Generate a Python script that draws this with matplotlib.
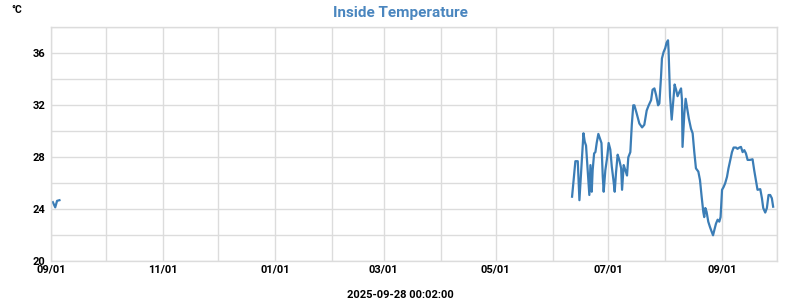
import numpy as np
import pandas as pd
import matplotlib
matplotlib.use("Agg")
import matplotlib.pyplot as plt
import matplotlib.dates as mdates
from matplotlib.ticker import MultipleLocator, FuncFormatter

# ---- data ----
title = "Inside Temperature"
unit = "°C"
footer = "2025-09-28 00:02:00"
start_date = "2024-09-01"
end_date = "2025-10-01"

# days since start_date, temperatures (°C)
seg1_days = [1.0, 2.3, 3.3, 4.6]
seg1_temps = [24.55, 24.15, 24.65, 24.7]

seg2_days = [283.5, 285.3, 286.6, 287.5, 289.7, 290.4, 291.1, 292.9, 293.5, 294.2,
             294.7, 295.5, 296.2, 296.9, 297.8, 299.5, 300.2, 300.7, 301.6, 302.6,
             303.4, 304.3, 305.1, 306.0, 306.7, 307.4, 308.3, 309.2, 310.2, 310.7,
             311.6, 312.5, 313.4, 314.1, 315.2, 316.0, 316.8, 317.4, 318.6, 320.1,
             321.6, 322.8, 324.1, 325.2, 326.5, 327.3, 328.3, 329.2, 330.3, 331.0,
             331.9, 332.4, 333.3, 334.2, 334.9, 335.7, 336.0, 336.8, 337.7, 338.6,
             339.3, 340.1, 340.9, 341.8, 342.8, 343.3, 343.6, 344.6, 345.3, 346.2,
             347.0, 348.2, 349.1, 350.0, 350.9, 352.2, 353.1, 354.0, 354.9, 355.4,
             356.0, 356.7, 357.6, 358.5, 359.4, 360.2, 360.9, 361.8, 362.7, 363.6,
             364.3, 365.1, 365.9, 366.8, 367.8, 368.6, 369.6, 370.5, 371.4, 372.7,
             373.5, 374.5, 375.4, 376.3, 377.2, 378.1, 379.0, 380.3, 381.7, 382.6,
             383.5, 384.4, 385.9, 386.8, 387.5, 388.6, 389.5, 390.4, 391.3, 392.2,
             392.9]
seg2_temps = [24.97, 27.7, 27.7, 24.7, 29.85, 29.2, 28.9, 25.1, 27.4, 25.35,
              27.0, 28.3, 28.4, 29.1, 29.8, 29.1, 26.5, 25.35, 27.0, 28.0,
              29.1, 28.6, 27.3, 26.25, 25.35, 26.8, 28.2, 27.8, 27.15, 25.5,
              27.4, 27.0, 26.6, 28.0, 28.4, 30.5, 32.0, 32.0, 31.4, 30.6,
              30.3, 30.5, 31.6, 32.0, 32.4, 33.2, 33.3, 32.8, 32.0, 32.15,
              34.2, 35.6, 36.1, 36.4, 36.8, 37.0, 36.25, 32.7, 30.9, 32.4,
              33.6, 33.2, 32.7, 33.0, 33.3, 32.4, 28.8, 31.4, 32.5, 31.7,
              31.0, 30.2, 29.85, 28.4, 27.15, 26.9, 26.25, 24.97, 23.8, 23.4,
              24.1, 23.8, 23.05, 22.65, 22.3, 22.0, 22.4, 22.9, 23.2, 23.05,
              23.4, 25.5, 25.7, 26.0, 26.5, 27.15, 27.8, 28.4, 28.75, 28.75,
              28.65, 28.75, 28.8, 28.4, 28.55, 28.3, 27.8, 27.8, 27.85, 27.0,
              26.25, 25.5, 25.55, 24.85, 24.1, 23.75, 24.1, 25.1, 25.1, 24.85,
              24.2]

y_min, y_max = 20, 38

# ---- styling ----
plt.rcParams['font.family'] = ['Roboto', 'DejaVu Sans']
line_color = "#3b7db6"
title_color = "#4a86bf"
grid_color = "#dcdcdc"

fig = plt.figure(figsize=(8, 3), dpi=100)
ax = fig.add_axes([0.06375, 0.129, 0.9075, 0.78])

t0 = pd.Timestamp(start_date)
x1 = t0 + pd.to_timedelta(seg1_days, unit="D")
x2 = t0 + pd.to_timedelta(seg2_days, unit="D")
ax.plot(x1, seg1_temps, color=line_color, lw=1.6, solid_joinstyle="round")
ax.plot(x2, seg2_temps, color=line_color, lw=1.6, solid_joinstyle="round")

ax.set_xlim(t0, pd.Timestamp(end_date))
ax.set_ylim(y_min, y_max)

ax.xaxis.set_major_locator(mdates.MonthLocator(bymonth=[1, 3, 5, 7, 9, 11]))
ax.xaxis.set_minor_locator(mdates.MonthLocator())
ax.xaxis.set_major_formatter(mdates.DateFormatter("%m/%d"))
ax.yaxis.set_major_locator(MultipleLocator(4))
ax.yaxis.set_minor_locator(MultipleLocator(2))
ax.yaxis.set_major_formatter(FuncFormatter(lambda v, p: f"{int(v)}" if v < y_max else ""))

ax.grid(True, which="both", color=grid_color, lw=1.0)
ax.set_axisbelow(True)
for s in ax.spines.values():
    s.set_color(grid_color)
    s.set_linewidth(1.0)

ax.tick_params(which="both", length=0)
ax.tick_params(axis="x", pad=2, labelsize=8)
ax.tick_params(axis="y", pad=4, labelsize=8)
for lab in ax.get_xticklabels() + ax.get_yticklabels():
    lab.set_fontweight("bold")

fig.text(0.5, 0.958, title, ha="center", va="center", color=title_color,
         fontsize=11, fontweight="bold")
fig.text(0.014, 0.968, unit, ha="left", va="center", color="black",
         fontsize=7.5, fontweight="bold")
fig.text(0.5, 0.017, footer, ha="center", va="center", color="black",
         fontsize=8, fontweight="bold")

fig.savefig("out.png", dpi=100)
